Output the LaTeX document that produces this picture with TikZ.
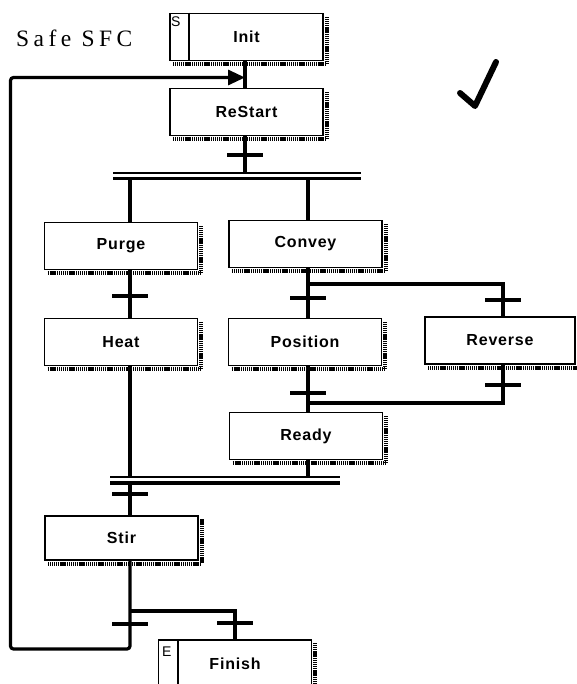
\documentclass[tikz,border=0pt]{standalone}
\usepackage{fontspec}
\setmainfont{Liberation Serif}
\newfontfamily\boxfont[LetterSpace=5]{Liberation Sans}
\newfontfamily\titlefont[LetterSpace=19]{Liberation Serif}
\usetikzlibrary{arrows.meta}

\tikzset{
  stepbox/.style={draw, rectangle, line width=1.8pt, inner sep=0pt,
    minimum width=153pt, minimum height=47pt,
    font=\boxfont\bfseries\fontsize{16}{18}\selectfont},
  tagtext/.style={inner sep=0pt, font=\boxfont\fontsize{14}{16}\selectfont},
  flow/.style={line width=3.2pt},
  tick/.style={line width=3.4pt},
  thinbar/.style={line width=2.3pt},
  thickbar/.style={line width=3.3pt},
  shadowedge/.style={line width=3.8pt, dash pattern=on 1.2pt off 0.7pt},
  divider/.style={line width=1.8pt},
}
% transition bar across a flow line
\newcommand\transbar[1]{\draw[tick] ([xshift=-18pt]#1) -- ([xshift=18pt]#1);}

\begin{document}
\begin{tikzpicture}[x=1pt,y=-1pt]
\useasboundingbox (0,0) rectangle (577,684);
\clip (0,0) rectangle (577,684);

% title and check mark
\node[anchor=base west, inner sep=0pt, font=\titlefont\fontsize{23.5}{26}\selectfont] (title) at (16,47) {Safe SFC};
\draw[line width=6pt, line cap=round, line join=round] (460,93) -- (475,106) -- (496,62);

% steps
\node[stepbox] (init)     at (246.5,37)  {Init};
\node[stepbox] (restart)  at (246.5,112) {ReStart};
\node[stepbox] (purge)    at (121,246)   {Purge};
\node[stepbox] (convey)   at (305.5,244) {Convey};
\node[stepbox] (heat)     at (121,342)   {Heat};
\node[stepbox] (position) at (305,342)   {Position};
\node[stepbox, minimum width=150pt] (reverse) at (500,340.5) {Reverse};
\node[stepbox] (ready)    at (306,436)   {Ready};
\node[stepbox, minimum height=44pt] (stir) at (121.5,538) {Stir};
\node[stepbox, minimum height=52pt] (finish) at (235,666) {\raisebox{5pt}{Finish}};

% qualifier compartments
\coordinate (sdiv) at (189,0);
\coordinate (ediv) at (178,0);
\draw[divider] (init.north -| sdiv) -- (init.south -| sdiv);
\draw[divider] (finish.north -| ediv) -- (finish.south -| ediv);
\node[tagtext, anchor=base west] (sq) at (171,27) {S};
\node[tagtext, anchor=base west] (eq) at (162,656) {E};

% drop shadows
\foreach \n in {init,restart,purge,convey,heat,position,reverse,ready,stir,finish}
  \draw[shadowedge] ([shift={(4pt,-2.8pt)}]\n.south west)
    -- ([shift={(2.8pt,-2.8pt)}]\n.south east)
    -- ([shift={(2.8pt,-4pt)}]\n.north east);

% flow line positions
\coordinate (xm) at (245,0);
\coordinate (xl) at (130,0);
\coordinate (xr) at (308,0);
\coordinate (xrr) at (503,0);
\coordinate (xf) at (235,0);
\coordinate (xo) at (10.5,0);

% simultaneous divergence / convergence bars
\coordinate (b1a) at (0,173);
\coordinate (b1b) at (0,178.5);
\coordinate (b2a) at (0,477);
\coordinate (b2b) at (0,483);
\draw[thinbar]  (113,173) coordinate (b1al) -- (361,173) coordinate (b1ar);
\draw[thickbar] (113,178.5) coordinate (b1bl) -- (361,178.5) coordinate (b1br);
\draw[thinbar]  (110,477) coordinate (b2al) -- (340,477) coordinate (b2ar);
\draw[thickbar] (110,483) coordinate (b2bl) -- (340,483) coordinate (b2br);

% selection branch levels
\coordinate (fork) at (0,284);
\coordinate (join) at (0,403);
\coordinate (fork2) at (0,611);
\coordinate (loopy) at (0,649);
\coordinate (entry) at (0,77.5);

% connectors
\draw[flow] (init.south -| xm) -- (restart.north -| xm);
\draw[flow] (restart.south -| xm) -- (xm |- b1a);
\draw[flow] (xl |- b1b) -- (purge.north -| xl);
\draw[flow] (xr |- b1b) -- (convey.north -| xr);
\draw[flow] (purge.south -| xl) -- (heat.north -| xl);
\draw[flow] (heat.south -| xl) -- (xl |- b2a);
\draw[flow] (convey.south -| xr) -- (position.north -| xr);
\draw[flow] (xr |- fork) -- (xrr |- fork) -- (reverse.north -| xrr);
\draw[flow] (position.south -| xr) -- (ready.north -| xr);
\draw[flow] (reverse.south -| xrr) -- (xrr |- join) -- (xr |- join);
\draw[flow] (ready.south -| xr) -- (xr |- b2a);
\draw[flow] (xl |- b2b) -- (stir.north -| xl);
\draw[flow] (xl |- fork2) -- (xf |- fork2) -- (finish.north -| xf);
\draw[flow, rounded corners=3pt, -{Triangle[length=17pt,width=15pt]}]
  (stir.south -| xl) -- (xl |- loopy) -- (xo |- loopy) -- (xo |- entry) -- (xm |- entry);

% transitions
\coordinate (t1) at (245,155);
\coordinate (t2) at (130,296);
\coordinate (t3) at (308,298);
\coordinate (t4) at (503,300);
\coordinate (t5) at (308,393);
\coordinate (t6) at (503,385);
\coordinate (t7) at (130,494);
\coordinate (t8) at (130,624);
\coordinate (t9) at (235,623);
\foreach \t in {t1,t2,t3,t4,t5,t6,t7,t8,t9} {\transbar{\t}}
\end{tikzpicture}
\end{document}
